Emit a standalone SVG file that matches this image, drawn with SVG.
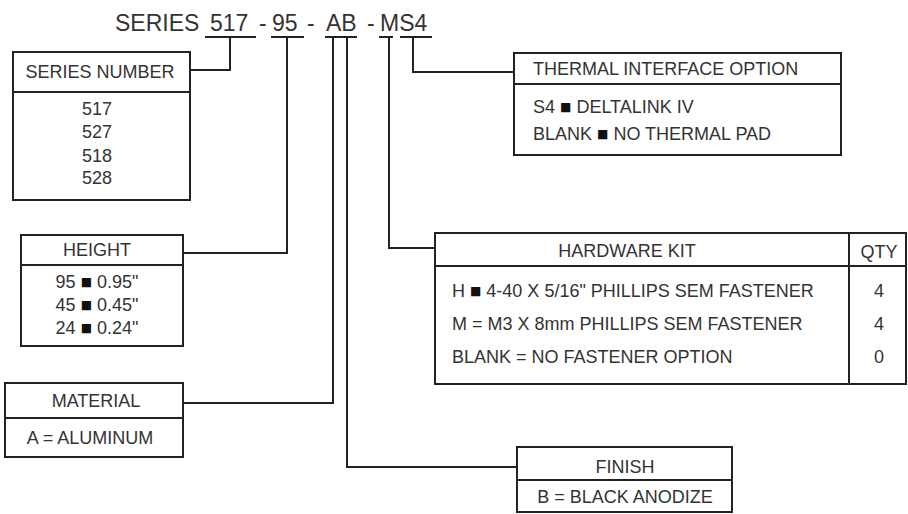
<svg xmlns="http://www.w3.org/2000/svg" width="908" height="514" viewBox="0 0 908 514">
<style>
  .box{fill:#fff;stroke:#222;stroke-width:2}
  .div{stroke:#222;stroke-width:2;fill:none}
  .t{font-family:"Liberation Sans",Arial,sans-serif;font-size:18px;fill:#333}
  .c{text-anchor:middle}
  .title{font-family:"Liberation Sans",Arial,sans-serif;font-size:23px;fill:#333}
  .sq{font-family:"DejaVu Sans",sans-serif;font-size:12px;fill:#111}
  #connectors path{stroke:#222;stroke-width:2;fill:none}
</style>
<rect width="908" height="514" fill="#fff"/>

<g id="title">
  <text class="title" x="115" y="31">SERIES</text>
  <text class="title" x="210" y="31">517</text>
  <text class="title" x="259" y="31">-</text>
  <text class="title" x="272" y="31">95</text>
  <text class="title" x="307" y="31">-</text>
  <text class="title" x="326" y="31">AB</text>
  <text class="title" x="367" y="31">-</text>
  <text class="title" x="380" y="31">MS4</text>
</g>

<g id="connectors">
  <path d="M205 37H256M271 37H304M325 37H357M379 37H393M400 37H432"/>
  <path d="M230 37V70H190"/>
  <path d="M287 37V253H183"/>
  <path d="M333 37V403H183"/>
  <path d="M347 37V467H517"/>
  <path d="M389 37V248H435"/>
  <path d="M413 37V72H514"/>
</g>

<g id="series-number">
  <rect class="box" x="13" y="52" width="177" height="148"/>
  <path class="div" d="M13 92H190"/>
  <text class="t c" x="100" y="78">SERIES NUMBER</text>
  <text class="t c" x="97" y="115">517</text>
  <text class="t c" x="97" y="138">527</text>
  <text class="t c" x="97" y="162">518</text>
  <text class="t c" x="97" y="184">528</text>
</g>

<g id="height">
  <rect class="box" x="21" y="235" width="162" height="111"/>
  <path class="div" d="M21 265H183"/>
  <text class="t c" x="97" y="256">HEIGHT</text>
  <text class="t c" x="97" y="288">95 <tspan class="sq" dy="-2">■</tspan><tspan dy="2"> 0.95"</tspan></text>
  <text class="t c" x="97" y="311">45 <tspan class="sq" dy="-2">■</tspan><tspan dy="2"> 0.45"</tspan></text>
  <text class="t c" x="97" y="334">24 <tspan class="sq" dy="-2">■</tspan><tspan dy="2"> 0.24"</tspan></text>
</g>

<g id="material">
  <rect class="box" x="5" y="383" width="178" height="74"/>
  <path class="div" d="M5 418H183"/>
  <text class="t c" x="96" y="407">MATERIAL</text>
  <text class="t c" x="90" y="444">A = ALUMINUM</text>
</g>

<g id="thermal-interface">
  <rect class="box" x="514" y="53" width="327" height="102"/>
  <path class="div" d="M514 84H841"/>
  <text class="t" x="533" y="75">THERMAL INTERFACE OPTION</text>
  <text class="t" x="533" y="113">S4 <tspan class="sq" dy="-2">■</tspan><tspan dy="2"> DELTALINK IV</tspan></text>
  <text class="t" x="533" y="140">BLANK <tspan class="sq" dy="-2">■</tspan><tspan dy="2"> NO THERMAL PAD</tspan></text>
</g>

<g id="hardware-kit">
  <rect class="box" x="435" y="233" width="471" height="151"/>
  <path class="div" d="M435 266H906M849 233V384"/>
  <text class="t c" x="627" y="257">HARDWARE KIT</text>
  <text class="t c" x="879" y="258">QTY</text>
  <text class="t" x="452" y="297">H <tspan class="sq" dy="-2">■</tspan><tspan dy="2"> 4-40 X 5/16" PHILLIPS SEM FASTENER</tspan></text>
  <text class="t" x="452" y="330">M = M3 X 8mm PHILLIPS SEM FASTENER</text>
  <text class="t" x="452" y="363">BLANK = NO FASTENER OPTION</text>
  <text class="t c" x="879" y="297">4</text>
  <text class="t c" x="879" y="330">4</text>
  <text class="t c" x="879" y="363">0</text>
</g>

<g id="finish">
  <rect class="box" x="517" y="447" width="215" height="65"/>
  <path class="div" d="M517 480H732"/>
  <text class="t c" x="625" y="473">FINISH</text>
  <text class="t c" x="625" y="503">B = BLACK ANODIZE</text>
</g>
</svg>
